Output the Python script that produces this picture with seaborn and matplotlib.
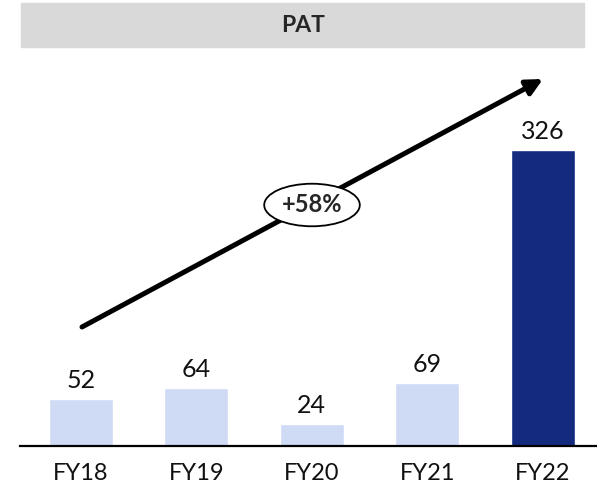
import matplotlib
matplotlib.use("Agg")
import matplotlib.pyplot as plt
from matplotlib.patches import Rectangle
import seaborn as sns

# data
years = ['FY18', 'FY19', 'FY20', 'FY21', 'FY22']
pat = [52, 64, 24, 69, 326]
bar_colors = ['#cfdaf5', '#cfdaf5', '#cfdaf5', '#cfdaf5', '#132a7f']
cagr_label = '+58%'

sns.set_style('white')
plt.rcParams['font.family'] = ['Lato', 'DejaVu Sans']

W, H = 597, 487
fig = plt.figure(figsize=(W / 100, H / 100), dpi=100)
ax = fig.add_axes([20 / W, (H - 446) / H, 577 / W, (446 - 60) / H])

sns.barplot(x=years, y=pat, hue=years, palette=bar_colors, width=0.555,
            legend=False, ax=ax, saturation=1)
ax.set_xlim(-0.529, 4.472)
ax.set_ylim(0, 425)

for c in ax.containers:
    ax.bar_label(c, fontsize=18, padding=5, color='#111111')

for s in ['top', 'right', 'left']:
    ax.spines[s].set_visible(False)
ax.spines['bottom'].set_color('black')
ax.spines['bottom'].set_linewidth(1.6)
ax.set_yticks([])
ax.tick_params(axis='x', length=0, pad=12, labelsize=17, colors='#111111')
ax.set_xlabel('')
ax.set_ylabel('')

# title bar
fig.patches.append(Rectangle((21 / W, 1 - 47 / H), 563 / W, 44 / H,
                             transform=fig.transFigure, color='#d9d9d9', zorder=0))
fig.text(303 / W, 1 - 26 / H, 'PAT', ha='center', va='center',
         fontsize=16.5, fontweight='bold')

# growth arrow
ax.annotate('', xy=(543 / W, 1 - 79 / H), xytext=(82 / W, 1 - 327 / H),
            xycoords='figure fraction', textcoords='figure fraction',
            arrowprops=dict(arrowstyle='-|>', lw=3.6, color='black',
                            mutation_scale=24, shrinkA=0, shrinkB=0))
fig.text(312 / W, 1 - 205 / H, cagr_label, ha='center', va='center',
         fontsize=17, fontweight='bold',
         bbox=dict(boxstyle='ellipse,pad=0.15', fc='white', ec='black', lw=1.3))

fig.savefig('out.png', dpi=100)
